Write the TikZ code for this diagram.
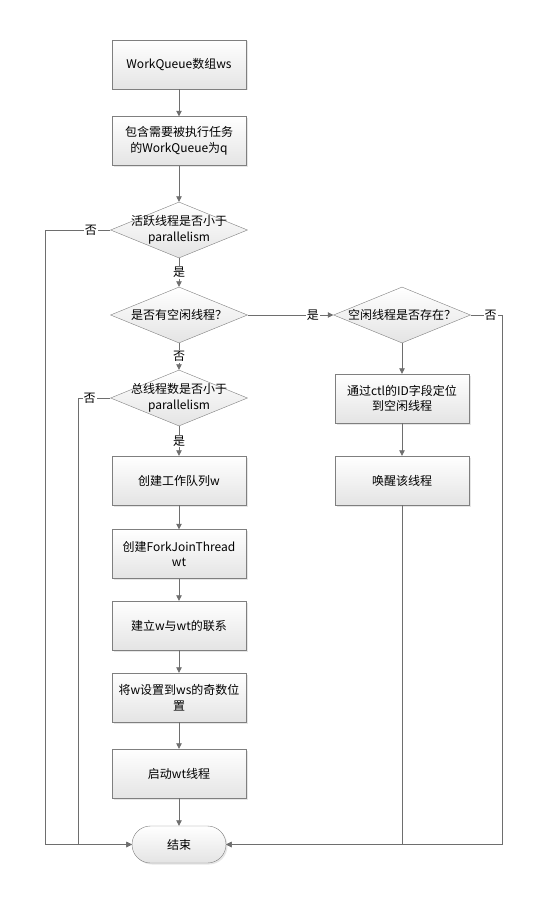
\documentclass[tikz,border=0pt]{standalone}
\usepackage{fontspec}
\setmainfont{Noto Sans CJK SC}
\usepackage{xcolor}
\usepackage{tikz}
\usetikzlibrary{shapes,shapes.geometric,shapes.misc,arrows.meta,positioning,calc,shadows}

\definecolor{lineclr}{HTML}{6E6E6E}
\definecolor{edgeclr}{HTML}{7F7F7F}
\definecolor{fillbot}{HTML}{E4E4E4}

\begin{document}
\begin{tikzpicture}[
            x=1pt, y=-1pt,
            every node/.style={font=\fontsize{12}{15.5}\selectfont},
            >={Triangle[width=5.5pt,length=5.5pt]},
            proc/.style={draw=edgeclr, top color=white, bottom color=fillbot, align=center,
                minimum width=134pt, minimum height=49pt, inner sep=2pt,
                drop shadow={shadow xshift=1.5pt, shadow yshift=-1.5pt, opacity=0.2}},
            dec/.style={diamond, draw=edgeclr, top color=white, bottom color=fillbot,
                minimum width=137pt, minimum height=56pt, inner sep=0pt},
            term/.style={rounded rectangle, draw=edgeclr, top color=white, bottom color=fillbot,
                minimum width=94pt, minimum height=37pt, inner sep=0pt,
                drop shadow={shadow xshift=1.5pt, shadow yshift=-1.5pt, opacity=0.2}},
            lbl/.style={fill=white, inner sep=1pt},
            conn/.style={draw=lineclr, thick},
        ]
            \useasboundingbox (0,0) rectangle (544,904);

            % main column
            \node[proc] (ws) at (179,64.5) {WorkQueue数组ws};
            \node[proc] (q) at (179,141) {包含需要被执行任务\\的WorkQueue为q};
            \node[dec, label={[align=center]center:活跃线程是否小于\\parallelism}] (active) at (179,230) {};
            \node[dec, label={center:是否有空闲线程？}] (idle) at (179,315) {};
            \node[dec, label={[align=center]center:总线程数是否小于\\parallelism}] (total) at (179,398) {};
            \node[proc] (mkw) at (179,480.5) {创建工作队列w};
            \node[proc] (mkwt) at (179,554) {创建ForkJoinThread\\wt};
            \node[proc] (link) at (179,625.5) {建立w与wt的联系};
            \node[proc] (odd) at (179,697.5) {将w设置到ws的奇数位\\置};
            \node[proc] (start) at (179,773.5) {启动wt线程};
            \node[term] (end) at (179,844.5) {结束};

            % right column
            \node[dec, label={center:空闲线程是否存在？}] (exist) at (402,315) {};
            \node[proc] (find) at (402,398.5) {通过ctl的ID字段定位\\到空闲线程};
            \node[proc] (wake) at (402,480.5) {唤醒该线程};

            \draw[conn,->] (ws) -- (q);
            \draw[conn,->] (q) -- (active);
            \draw[conn,->] (active) -- node[lbl]{是} (idle);
            \draw[conn,->] (idle) -- node[lbl]{否} (total);
            \draw[conn,->] (total) -- node[lbl]{是} (mkw);
            \draw[conn,->] (mkw) -- (mkwt);
            \draw[conn,->] (mkwt) -- (link);
            \draw[conn,->] (link) -- (odd);
            \draw[conn,->] (odd) -- (start);
            \draw[conn,->] (start) -- (end);

            \draw[conn,->] (idle.east) -- node[lbl,pos=0.76]{是} (exist.west);
            \draw[conn,->] (exist) -- (find);
            \draw[conn,->] (find) -- (wake);

            % "no" branches to the end
            \draw[conn,->] (active.west) -- node[lbl,pos=0.3]{否} ++(-65,0) |- (end.west);
            \draw[conn,->] (total.west) -- node[lbl,pos=0.65]{否} ++(-32,0) |- (end.west);
            \draw[conn,->] (exist.east) -- node[lbl,pos=0.62]{否} ++(32,0) |- (end.east);
            \draw[conn,->] (wake.south) |- (end.east);
        \end{tikzpicture}
\end{document}
